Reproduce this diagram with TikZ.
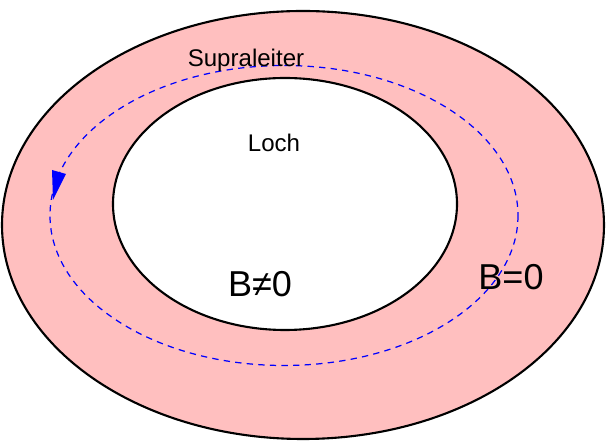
\documentclass[tikz,border=0pt]{standalone}
\usepackage{fontspec}
\setmainfont{Liberation Sans}
\definecolor{ringpink}{RGB}{255,191,191}

\begin{document}
\begin{tikzpicture}[
  x=0.02cm, y=-0.02cm,
  rim/.style={draw=black, line width=1.2pt},
  path/.style={draw=blue, line width=0.7pt, dash pattern=on 3.6pt off 3pt},
  small/.style={font=\fontsize{13.7}{15}\selectfont, inner sep=0pt},
  big/.style={font=\fontsize{20.5}{23}\selectfont, inner sep=0pt}]
  \useasboundingbox (0,0) rectangle (606,445);
  % Ring und Loch
  \draw[rim, fill=ringpink] (303,225) ellipse [x radius=301, y radius=214];
  \draw[rim, fill=white] (285,204) ellipse [x radius=172, y radius=126];
  % Stromweg
  \draw[path] (284,215.5) ellipse [x radius=234, y radius=150];
  \fill[blue] (52,170) -- (66,174) -- (53,200) -- cycle;
  % Beschriftung
  \node[small] (supra) at (246,60) {Supraleiter};
  \node[small] (loch) at (274,143) {Loch};
  \node[big] (binnen) at (260,284) {B≠0};
  \node[big] (baussen) at (511,277) {B=0};
\end{tikzpicture}
\end{document}
